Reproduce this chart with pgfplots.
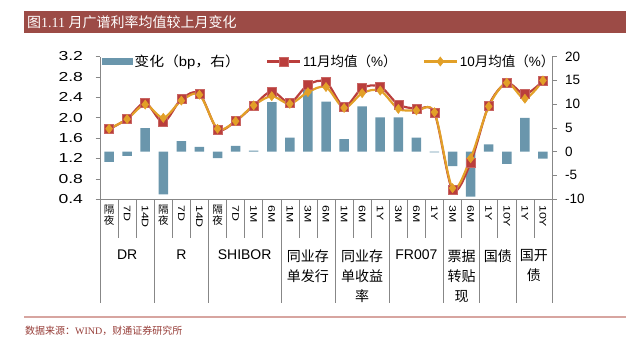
\documentclass[border=0pt]{standalone}
\usepackage{fontspec}
\setmainfont{Liberation Sans}
\newfontfamily\cjk{Noto Sans CJK SC}
\newfontfamily\lserif{Liberation Serif}
\usepackage{graphicx}
\usepackage{pgfplots}
\pgfplotsset{compat=1.18}
\usepackage{pgfplotstable}

\definecolor{barcol}{RGB}{106,150,172}
\definecolor{novcol}{RGB}{186,62,60}
\definecolor{octcol}{RGB}{226,160,40}
\definecolor{titlebg}{RGB}{156,75,70}
\definecolor{axgray}{RGB}{135,135,135}
\definecolor{srccol}{RGB}{150,60,55}
\definecolor{footline}{RGB}{215,165,160}

\pgfplotsset{mylineleg/.style={legend image code/.code={\draw[mark repeat=2,mark phase=2,##1] plot coordinates {(0bp,0bp) (16.5bp,0bp) (33bp,0bp)};}},
  mybarleg/.style={legend image code/.code={\fill[barcol] (0bp,-3bp) rectangle (30bp,3bp);}}}

\pgfplotstableread{
idx nov oct chg
0 1.770 1.780 -2.2
1 1.975 1.970 -0.9
2 2.290 2.255 4.9
3 1.910 1.995 -9.0
4 2.366 2.333 2.2
5 2.470 2.450 0.95
6 1.767 1.780 -1.4
7 1.930 1.930 1.2
8 2.236 2.240 0.2
9 2.516 2.420 10.4
10 2.290 2.270 2.9
11 2.646 2.500 13.1
12 2.700 2.600 10.5
13 2.216 2.190 2.6
14 2.580 2.480 9.5
15 2.610 2.530 7.2
16 2.255 2.170 7.2
17 2.170 2.140 2.9
18 2.090 2.105 -0.2
19 0.575 0.614 -3.1
20 1.115 1.200 -9.5
21 2.240 2.220 1.5
22 2.680 2.685 -2.6
23 2.460 2.370 7.1
24 2.720 2.730 -1.5
}\datatable

\newcommand{\rl}[1]{\rotatebox{-90}{\scalebox{1.3}[1]{#1}}}
\newcommand{\gy}{\cjk\fontsize{10.5bp}{11bp}\selectfont 隔\\\cjk\fontsize{10.5bp}{11bp}\selectfont 夜}

\begin{document}
\begin{tikzpicture}
\begin{scope}[x=1bp,y=-1bp]
\useasboundingbox (0,0) rectangle (626,336);
\fill[titlebg] (24,11) rectangle (626,33);
\node[anchor=west,text=white,inner sep=0pt,font=\fontsize{14bp}{16bp}\selectfont] at (27,22) {{\cjk 图}{\lserif 1.11 }{\cjk 月广谱利率均值较上月变化}};
\draw[footline,line width=1.2bp] (24,317) -- (626,317);
\node[anchor=west,text=srccol,inner sep=0pt,font=\fontsize{10bp}{12bp}\selectfont] at (25,331) {{\cjk 数据来源：}{\lserif WIND}{\cjk ，财通证券研究所}};
\end{scope}

% bars on the right axis
\begin{axis}[
  at={(100bp,-199bp)}, anchor=south west,
  width=452bp, height=142.5bp, scale only axis,
  xmin=-0.5, xmax=24.5, ymin=-10, ymax=20,
  axis y line*=right, axis x line=none,
  ytick={-10,-5,0,5,10,15,20},
  ybar, bar width=9.5bp,
  tick align=outside, major tick length=4.5bp,
  axis line style={axgray}, tick style={axgray},
  /pgf/number format/assume math mode=true,
  yticklabel style={font=\fontsize{13.5bp}{15bp}\selectfont, xshift=5bp},
]
\addplot[fill=barcol, draw=none, bar shift=0pt] table[x=idx,y=chg]{\datatable};
\end{axis}

% lines on the left axis
\begin{axis}[
  at={(100bp,-199bp)}, anchor=south west,
  width=452bp, height=142.5bp, scale only axis,
  xmin=-0.5, xmax=24.5, ymin=0.4, ymax=3.2,
  axis y line*=left, axis x line*=bottom,
  ytick={0.4,0.8,1.2,1.6,2.0,2.4,2.8,3.2},
  yticklabel={\scalebox{1.35}[1]{\pgfmathprintnumber[fixed,fixed zerofill,precision=1]{\tick}}},
  yticklabel style={font=\fontsize{13bp}{15bp}\selectfont, xshift=-9bp},
  /pgf/number format/assume math mode=true,
  tick align=outside, major tick length=4.5bp,
  axis line style={axgray}, ytick style={axgray}, xtick style={draw=none},
  xtick={0,...,24},
  xticklabels={\gy,\rl{7D},\rl{14D},\gy,\rl{7D},\rl{14D},\gy,\rl{7D},\rl{1M},\rl{6M},
    \rl{1M},\rl{3M},\rl{6M},\rl{1M},\rl{6M},\rl{1Y},\rl{3M},\rl{6M},\rl{1Y},
    \rl{3M},\rl{6M},\rl{1Y},\rl{10Y},\rl{1Y},\rl{10Y}},
  x tick label style={anchor=north, align=center, inner sep=0pt, yshift=-1.5bp,
    font=\fontsize{9.5bp}{11bp}\selectfont},
  legend columns=3,
  legend style={at={(0.004,0.965)}, anchor=west, draw=none, fill=none,
    inner sep=0pt, font=\fontsize{13.5bp}{15bp}\selectfont,
    /tikz/every even column/.append style={column sep=24bp}},
  legend cell align=left,
]
\addlegendimage{mybarleg}
\addlegendentry{\scalebox{1.1}[1]{{\cjk 变化（}bp{\cjk ，右）}}}
\addplot[novcol, line width=2.2bp, smooth, mark=square*, mark size=4.5bp,
  mark options={fill=novcol, draw=novcol!80!white, line width=0.6bp}, mylineleg]
  table[x=idx,y=nov]{\datatable};
\addlegendentry{11{\cjk 月均值（}\%{\cjk ）}}
\addplot[octcol, line width=2.2bp, smooth, mark=diamond*, mark size=4.5bp,
  mark options={fill=octcol, draw=octcol, line width=0.6bp}, mylineleg]
  table[x=idx,y=oct]{\datatable};
\addlegendentry{10{\cjk 月均值（}\%{\cjk ）}}
\end{axis}

\begin{scope}[x=1bp,y=-1bp]
\foreach \k in {1,2,4,5,7,8,9,11,12,14,15,17,18,20,22,24}
  \draw[axgray, line width=0.6bp] ({100+18.08*\k},199) -- ({100+18.08*\k},238);
\foreach \k in {0,3,6,10,13,16,19,21,23,25}
  \draw[axgray, line width=0.6bp] ({100+18.08*\k},199) -- ({100+18.08*\k},303);
\tikzset{grp/.style={anchor=north, align=center, inner sep=0pt, font=\fontsize{14bp}{20bp}\selectfont},
  grpc/.style={grp, font=\cjk\fontsize{14bp}{20bp}\selectfont}}
\node[grp] at ({100+18.08*1.5},250) {DR};
\node[grp] at ({100+18.08*4.5},250) {R};
\node[grp] at ({100+18.08*8},250) {SHIBOR};
\node[grpc] at ({100+18.08*11.5},249.5) {同业存\\单发行};
\node[grpc] at ({100+18.08*14.5},249.5) {同业存\\单收益\\率};
\node[grp] at ({100+18.08*17.5},250) {FR007};
\node[grpc] at ({100+18.08*20},249.5) {票据\\转贴\\现};
\node[grpc] at ({100+18.08*22},249.5) {国债};
\node[grpc] at ({100+18.08*24},249.5) {国开\\债};
\end{scope}
\end{tikzpicture}
\end{document}
